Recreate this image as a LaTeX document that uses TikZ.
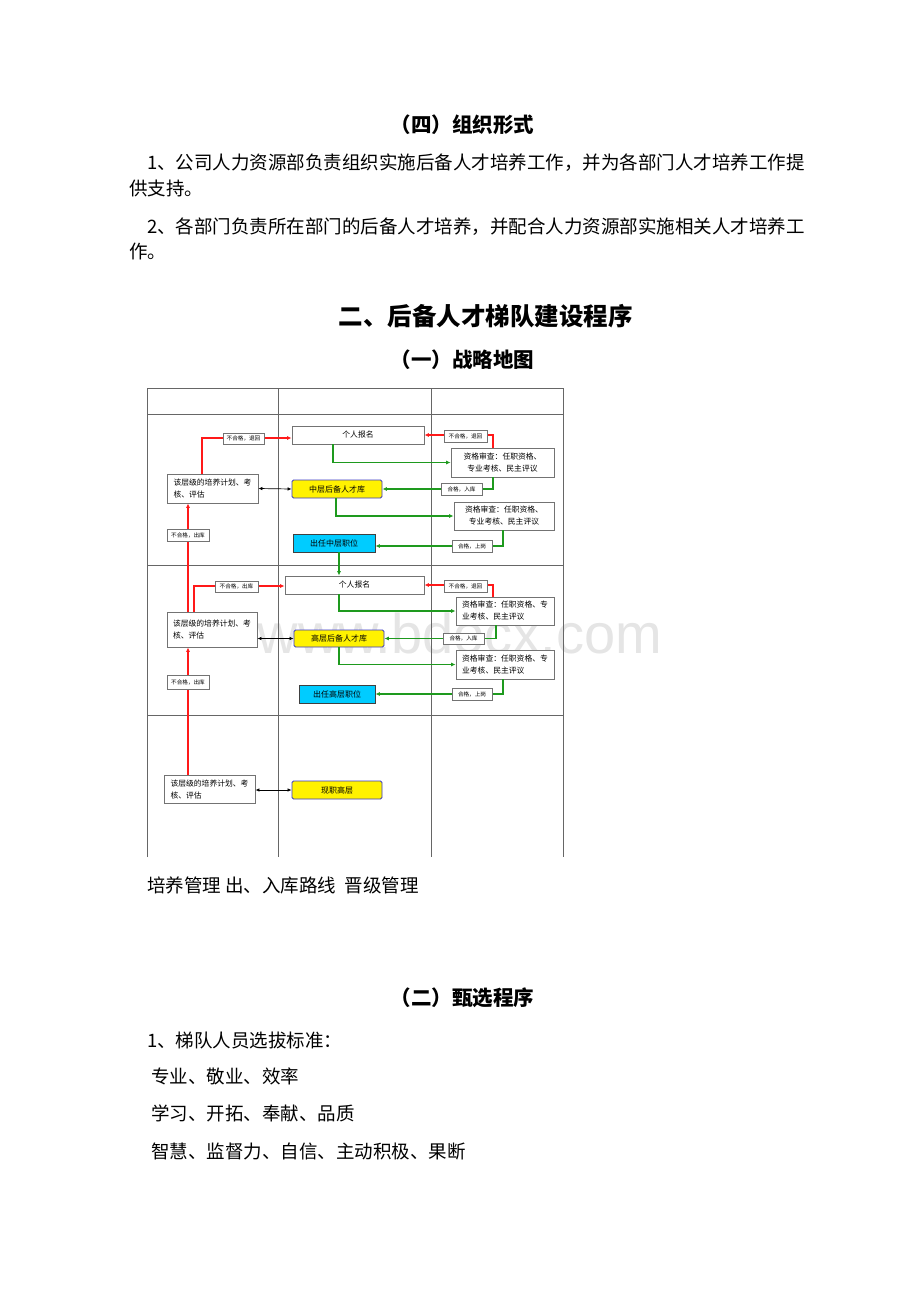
\documentclass[tikz,border=0pt]{standalone}
\usepackage{fontspec}
\setmainfont{Noto Sans CJK SC}
\newfontfamily\wmfont{Liberation Sans}
\usetikzlibrary{positioning,calc,arrows.meta}

\definecolor{postcyan}{HTML}{00CCFF}
\definecolor{linegreen}{HTML}{1E9A1E}

\tikzset{
  box/.style={draw=gray!90!black, fill=white, line width=0.8pt, inner sep=0pt,
    font=\fontsize{7.8}{12}\selectfont},
  pool/.style={box, fill=yellow, draw=blue!55!gray, rounded corners=1.5pt,
    font=\fontsize{8}{10}\selectfont},
  post/.style={box, fill=postcyan, draw=gray!50!black,
    font=\fontsize{8}{10}\selectfont},
  tag/.style={draw=gray!90!black, fill=white, line width=0.6pt, inner sep=0pt,
    font=\fontsize{5.6}{6}\selectfont},
  redline/.style={red!90!white, line width=1.1pt, -{Latex[length=4.5pt,width=4pt]}},
  greenline/.style={linegreen, line width=1.1pt, -{Latex[length=4.5pt,width=4pt]}},
  twoway/.style={black, line width=0.7pt,
    {Latex[length=4pt,width=3.5pt]}-{Latex[length=4pt,width=3.5pt]}},
  frame/.style={gray!80!black, line width=0.8pt},
  body/.style={anchor=west, inner sep=0pt, font=\fontsize{18.5}{22}\selectfont},
  head/.style={inner sep=0pt, font=\bfseries\fontsize{20.5}{24}\selectfont}
}

\begin{document}
\begin{tikzpicture}[x=1pt,y=-1pt]
    % page
    \fill[white] (0,0) rectangle (920,1302);
    \useasboundingbox (0,0) rectangle (920,1302);

    % watermark
    \node[font=\wmfont\fontsize{56}{56}\selectfont, text=gray!20, inner sep=0pt] (mark) at (460,633) {www.bdocx.com};

    % text above the map
    \node[head] (h4) at (462.5,125) {（四）组织形式};
    \node[body] (p1) at (147,163) {1、公司人力资源部负责组织实施后备人才培养工作，并为各部门人才培养工作提};
    \node[body] (p1b) at (129,188) {供支持。};
    \node[body] (p2) at (147,227) {2、各部门负责所在部门的后备人才培养，并配合人力资源部实施相关人才培养工};
    \node[body] (p2b) at (129,251) {作。};
    \node[head, font=\bfseries\fontsize{24.5}{28}\selectfont] (h2) at (485.5,316) {二、后备人才梯队建设程序};
    \node[head] (h1) at (462.5,360) {（一）战略地图};

    % frame of the map
    \draw[frame] (147,857) -- (147,388) -- (563,388) -- (563,857);
    \draw[frame] (278,388) -- (278,857);
    \draw[frame] (431,388) -- (431,857);
    \draw[frame] (147,414) -- (563,414);
    \draw[frame] (147,565) -- (563,565);
    \draw[frame] (147,715) -- (563,715);

    % middle level
    \node[box, minimum width=132pt, minimum height=18pt] (signup1) at (358,435) {个人报名};
    \node[box, minimum width=91pt, minimum height=29pt, align=left] (train1) at (212.5,488.5) {该层级的培养计划、考\\核、评估};
    \node[pool, minimum width=90pt, minimum height=18pt] (pool1) at (337,489) {中层后备人才库};
    \node[box, minimum width=103pt, minimum height=29pt, align=center] (check1) at (502.5,462.5) {资格审查：任职资格、\\专业考核、民主评议};
    \node[box, minimum width=100pt, minimum height=28pt, align=center] (check2) at (504,516) {资格审查：任职资格、\\专业考核、民主评议};
    \node[post, minimum width=82pt, minimum height=18pt] (post1) at (334,543) {出任中层职位};

    % senior level
    \node[box, minimum width=139pt, minimum height=18pt] (signup2) at (354.5,585) {个人报名};
    \node[box, minimum width=90pt, minimum height=35pt, align=left] (train2) at (212,629.5) {该层级的培养计划、考\\核、评估};
    \node[pool, minimum width=90pt, minimum height=17pt] (pool2) at (339,638.5) {高层后备人才库};
    \node[box, minimum width=98pt, minimum height=28pt, align=left] (check3) at (505,611) {资格审查：任职资格、专\\业考核、民主评议};
    \node[box, minimum width=98pt, minimum height=29pt, align=left] (check4) at (505,664.5) {资格审查：任职资格、专\\业考核、民主评议};
    \node[post, minimum width=76pt, minimum height=18pt] (post2) at (337,694) {出任高层职位};

    % current senior staff
    \node[box, minimum width=91pt, minimum height=28pt, align=left] (train3) at (209.5,789) {该层级的培养计划、考\\核、评估};
    \node[pool, minimum width=90pt, minimum height=18pt] (pool3) at (337,790) {现职高层};

    % routes, middle level
    \draw[redline] ([xshift=-10.5pt]train1.north) |- ([yshift=-3pt]signup1.west);
    \draw[twoway] (train1.east) -- (pool1.west);
    \draw[greenline] ([xshift=-25pt]signup1.south) |- (check1.west);
    \draw[redline] ([xshift=-9.5pt]check1.north) |- (signup1.east);
    \draw[greenline] ([xshift=-9.5pt]check1.south) |- (pool1.east);
    \draw[greenline] ([xshift=-1pt]pool1.south) |- (check2.west);
    \draw[greenline] ([xshift=-1pt]check2.south) |- ([yshift=-3pt]post1.east);
    \draw[greenline] ([xshift=5pt]post1.south) -- ([xshift=5pt]post1.south |- signup2.north);
    \draw[redline] ([xshift=-24pt]train2.north) -- ([xshift=-24pt]train2.north |- train1.south);

    % routes, senior level
    \draw[redline] ([xshift=-18pt]train2.north) |- ([yshift=-1pt]signup2.west);
    \draw[twoway] (pool2.west -| train2.east) -- (pool2.west);
    \draw[greenline] ([xshift=-15.5pt]signup2.south) |- (check3.west);
    \draw[redline] ([xshift=-12pt]check3.north) |- (signup2.east);
    \draw[greenline] ([xshift=-9pt]check3.south) |- (pool2.east);
    \draw[greenline] (pool2.south) |- (check4.west);
    \draw[greenline] ([xshift=-2pt]check4.south) |- (post2.east);
    \draw[redline] ([xshift=-21.5pt]train3.north) -- ([xshift=-21.5pt]train3.north |- train2.south);

    % current senior staff
    \draw[twoway] (pool3.west -| train3.east) -- (pool3.west);

    % tags on the routes
    \node[tag, minimum width=41pt, minimum height=11pt] (back1) at (243.5,438.5) {不合格，退回};
    \node[tag, minimum width=43pt, minimum height=12pt] (back2) at (465.5,436) {不合格，退回};
    \node[tag, minimum width=41pt, minimum height=12pt] (in1) at (461.5,489) {合格，入库};
    \node[tag, minimum width=40pt, minimum height=12pt] (up1) at (472,546) {合格，上岗};
    \node[tag, minimum width=42pt, minimum height=12pt] (out1) at (188,535) {不合格，出库};
    \node[tag, minimum width=43pt, minimum height=11pt] (out2) at (236.5,586.5) {不合格，出库};
    \node[tag, minimum width=43pt, minimum height=12pt] (back3) at (465.5,586) {不合格，退回};
    \node[tag, minimum width=41pt, minimum height=11pt] (in2) at (463.5,638.5) {合格，入库};
    \node[tag, minimum width=40pt, minimum height=12pt] (up2) at (472,694) {合格，上岗};
    \node[tag, minimum width=42pt, minimum height=14pt] (out3) at (188,682) {不合格，出库};

    % text below the map
    \node[body] (cap) at (147,885) {培养管理 出、入库路线\ \ 晋级管理};
    \node[head] (h22) at (462.5,998) {（二）甄选程序};
    \node[body] (s1) at (147,1040) {1、梯队人员选拔标准：};
    \node[body] (s2) at (151,1076) {专业、敬业、效率};
    \node[body] (s3) at (151,1113) {学习、开拓、奉献、品质};
    \node[body] (s4) at (151,1151) {智慧、监督力、自信、主动积极、果断};
\end{tikzpicture}
\end{document}
